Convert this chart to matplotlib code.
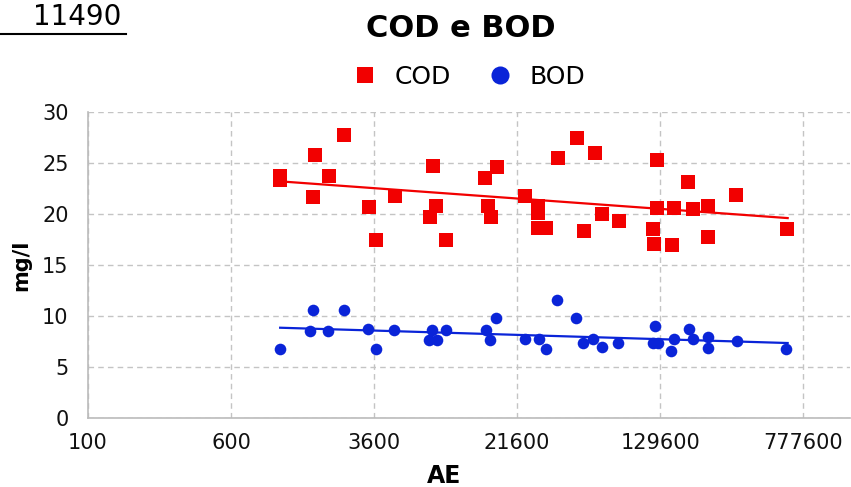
from matplotlib import pyplot as plt
from matplotlib.lines import Line2D
from matplotlib.ticker import FixedLocator, NullLocator

# AE (x) e valori COD / BOD (mg/l)
cod_ae = [1110, 1110, 1680, 1720, 2050, 2470, 3380, 3690, 4680, 7540,
          7830, 7260, 8870, 14470, 16810, 15020, 15600, 23880, 28110, 28110,
          28110, 31080, 36110, 45820, 57420, 50010, 62680, 77570, 124850, 124850,
          118700, 120200, 150700, 154500, 184100, 196000, 236600, 236600, 336000, 636500]
cod_val = [23.7, 23.3, 21.7, 25.8, 23.7, 27.7, 20.7, 17.5, 21.8, 24.7,
           20.8, 19.7, 17.5, 23.5, 24.6, 20.8, 19.7, 21.8, 20.8, 20.1,
           18.6, 18.6, 25.5, 27.5, 26.0, 18.3, 20.0, 19.3, 25.3, 20.6,
           18.5, 17.1, 17.0, 20.6, 23.1, 20.5, 20.8, 17.7, 21.9, 18.5]

bod_ae = [1110, 1610, 1680, 2020, 2470, 3340, 3690, 4630, 7450, 7170,
          7930, 8870, 14650, 16610, 15400, 23880, 28460, 31080, 35670, 45250,
          49400, 56000, 62680, 76600, 121700, 118700, 126400, 148800, 154500, 186400,
          196000, 236600, 236600, 340000, 628500]
bod_val = [6.8, 8.5, 10.6, 8.5, 10.6, 8.7, 6.8, 8.6, 8.6, 7.6,
           7.6, 8.6, 8.6, 9.8, 7.6, 7.7, 7.7, 6.8, 11.6, 9.8,
           7.4, 7.7, 7.0, 7.4, 9.0, 7.4, 7.4, 6.6, 7.7, 8.7,
           7.7, 7.9, 6.9, 7.5, 6.8]

# linee di tendenza (inizio, fine)
trend_ae = [1110, 640000]
cod_trend = [23.2, 19.6]
bod_trend = [8.85, 7.35]

xticks = [100, 600, 3600, 21600, 129600, 777600]
yticks = [0, 5, 10, 15, 20, 25, 30]

rosso = '#f20000'
blu = '#0a24d8'
grigio = '#c4c4c4'

fig = plt.figure(figsize=(8.51, 4.87), dpi=100)
ax = fig.add_axes([0.1034, 0.1417, 0.8956, 0.6283])

ax.scatter(cod_ae, cod_val, marker='s', s=90, color=rosso, linewidths=0, zorder=3)
ax.scatter(bod_ae, bod_val, marker='o', s=70, color=blu, linewidths=0, zorder=3)
ax.plot(trend_ae, cod_trend, color=rosso, lw=1.6, zorder=2)
ax.plot(trend_ae, bod_trend, color=blu, lw=1.6, zorder=2)

ax.set_xscale('log')
ax.set_xlim(100, 1.40e6)
ax.set_ylim(0, 30)
ax.xaxis.set_major_locator(FixedLocator(xticks))
ax.xaxis.set_minor_locator(NullLocator())
ax.set_xticklabels([str(t) for t in xticks])
ax.set_yticks(yticks)
ax.tick_params(axis='both', length=0, labelsize=15, colors='#111111')
ax.tick_params(axis='x', pad=11)
ax.tick_params(axis='y', pad=14)

ax.grid(True, color=grigio, linestyle=(0, (4, 3)), lw=1)
ax.set_axisbelow(True)
for lato in ['top', 'right']:
    ax.spines[lato].set_visible(False)
for lato in ['left', 'bottom']:
    ax.spines[lato].set_color('#bbbbbb')
    ax.spines[lato].set_linewidth(1.2)

ax.set_ylabel('mg/l', fontsize=15, fontweight='bold', labelpad=8)
fig.text(0.522, 0.0226, 'AE', fontsize=17, fontweight='bold', ha='center', va='center')

fig.text(0.542, 0.942, 'COD e BOD', fontsize=22, fontweight='bold', ha='center', va='center')

maniglie = [Line2D([], [], marker='s', ls='', color=rosso, markersize=12, markeredgewidth=0),
            Line2D([], [], marker='o', ls='', color=blu, markersize=13, markeredgewidth=0)]
fig.legend(maniglie, ['COD', 'BOD'], loc='center', bbox_to_anchor=(0.551, 0.842),
           ncol=2, frameon=False, fontsize=18, handlelength=1.0,
           handletextpad=0.68, columnspacing=1.48)

# numero in alto a sinistra, sottolineato
fig.text(0.039, 0.965, '11490', fontsize=20, ha='left', va='center')
fig.add_artist(Line2D([0.0, 0.148], [0.931, 0.931], color='black', lw=1.5))

fig.savefig('out.png', dpi=100)
